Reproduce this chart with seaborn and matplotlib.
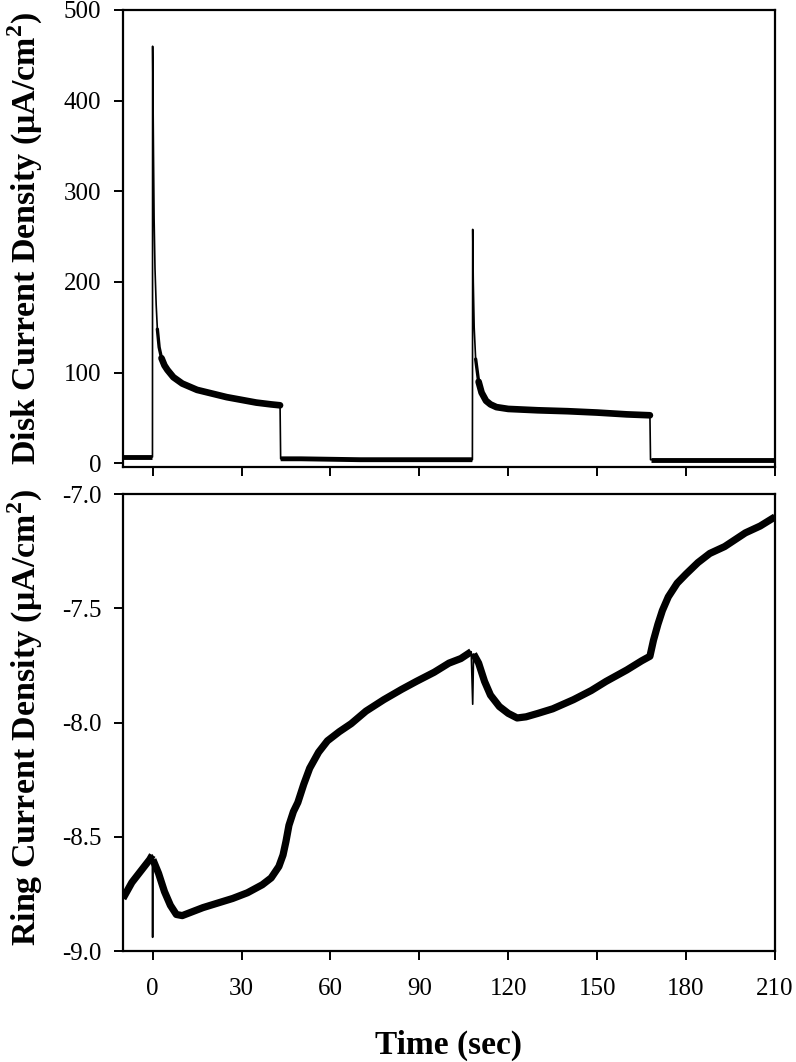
import numpy as np
import pandas as pd
import matplotlib
matplotlib.use("Agg")
import matplotlib.pyplot as plt
import seaborn as sns

# ---------------- data ----------------
disk_time = [-10, -5, -0.05, 0.0, 0.15, 0.3, 0.5, 0.8, 1.2, 1.6, 2.2, 3, 4, 5, 7, 10, 15, 20,
             25, 30, 35, 40, 43, 43.2, 50, 70, 90, 107.9, 108.0, 108.2, 108.5, 109, 110, 111,
             112.5, 114, 116, 120, 130, 140, 150, 160, 167.8, 168, 180, 195, 210]
disk_value = [7, 7, 7, 460, 400, 340, 270, 215, 175, 148, 128, 116, 108, 103, 95, 88, 81, 77,
              73, 70, 67, 65, 64, 5, 5, 4, 4, 4, 258, 200, 150, 115, 90, 78,
              69, 65, 62, 60, 58.5, 57.5, 56, 54, 53, 4, 4, 4, 4]

ring_time = [-10, -7, -4, -1, -0.1, 0.0, 0.1, 2, 4, 6, 8, 10, 13, 17, 22, 27, 32, 37, 40,
             42.6, 44, 45, 46, 47.5, 49, 51, 53, 56, 59, 63, 67, 72, 78, 84, 89, 95, 100,
             104, 107.5, 108.0, 108.3, 110, 112, 114, 117, 120, 123, 126, 130, 135, 142,
             148, 153, 160, 165, 167.8, 169, 170.5, 172, 174, 177, 180, 184, 188, 193, 200,
             205, 210]
ring_value = [-8.77, -8.70, -8.65, -8.60, -8.58, -8.94, -8.60, -8.66, -8.74, -8.80, -8.84,
              -8.845, -8.83, -8.81, -8.79, -8.77, -8.745, -8.71, -8.68,
              -8.63, -8.58, -8.52, -8.45, -8.39, -8.35, -8.27, -8.20, -8.13, -8.08, -8.04,
              -8.005, -7.95, -7.90, -7.855, -7.82, -7.78, -7.74,
              -7.72, -7.69, -7.92, -7.70, -7.74, -7.82, -7.88, -7.93, -7.96, -7.98, -7.975,
              -7.96, -7.94, -7.90,
              -7.86, -7.82, -7.77, -7.73, -7.71, -7.64, -7.57, -7.51, -7.45, -7.39, -7.35,
              -7.30, -7.26, -7.23, -7.17, -7.14, -7.10]

x_ticks = [0, 30, 60, 90, 120, 150, 180, 210]
disk_ticks = [0, 100, 200, 300, 400, 500]
ring_ticks = [-9.0, -8.5, -8.0, -7.5, -7.0]
ring_tick_labels = ["-9.0", "-8.5", "-8.0", "-7.5", "-7.0"]

# ---------------- style ----------------
sns.set_theme(style="ticks")
plt.rcParams["font.family"] = ["Liberation Serif", "DejaVu Serif"]
plt.rcParams["mathtext.fontset"] = "custom"
plt.rcParams["mathtext.rm"] = "Liberation Serif"
plt.rcParams["mathtext.bf"] = "Liberation Serif:bold"
for k in ["text.color", "axes.labelcolor", "xtick.color", "ytick.color", "axes.edgecolor"]:
    plt.rcParams[k] = "black"

disk = pd.DataFrame({"t": disk_time, "v": disk_value})
ring = pd.DataFrame({"t": ring_time, "v": ring_value})


def seg_label(t, ranges):
    for i, (a, b) in enumerate(ranges):
        if a <= t <= b:
            return i
    return -1


# noisy (thick) stretches, excluding the thin spikes/steps
disk_base_ranges = [(-10, -0.05), (43.2, 107.9), (168, 210)]
disk_mid_ranges = [(1.6, 4), (109, 111)]
disk_plateau_ranges = [(3, 43), (110, 167.8)]
ring_ranges = [(-10, -0.1), (0.1, 107.5), (108.3, 210)]

disk["base"] = [seg_label(t, disk_base_ranges) for t in disk_time]
disk["mid"] = [seg_label(t, disk_mid_ranges) for t in disk_time]
disk["plat"] = [seg_label(t, disk_plateau_ranges) for t in disk_time]
ring["seg"] = [seg_label(t, ring_ranges) for t in ring_time]

fig = plt.figure(figsize=(7.96, 10.62), dpi=100)
ax1 = fig.add_axes([0.1545, 0.5603, 0.8191, 0.4303])
ax2 = fig.add_axes([0.1545, 0.1045, 0.8191, 0.4303])

kw = dict(color="black", sort=False, estimator=None, solid_joinstyle="round")
lw_thin = 1.2
# top panel
sns.lineplot(data=disk, x="t", y="v", ax=ax1, lw=lw_thin, solid_capstyle="butt", **kw)
d = disk[disk["base"] >= 0]
sns.lineplot(data=d, x="t", y="v", units="base", ax=ax1, lw=3.5, solid_capstyle="butt", **kw)
d = disk[disk["mid"] >= 0]
sns.lineplot(data=d, x="t", y="v", units="mid", ax=ax1, lw=2.4, solid_capstyle="round", **kw)
d = disk[disk["plat"] >= 0]
sns.lineplot(data=d, x="t", y="v", units="plat", ax=ax1, lw=4.8, solid_capstyle="round", **kw)

# bottom panel
sns.lineplot(data=ring, x="t", y="v", ax=ax2, lw=lw_thin, solid_capstyle="butt", **kw)
r = ring[ring["seg"] >= 0]
sns.lineplot(data=r, x="t", y="v", units="seg", ax=ax2, lw=5.2, solid_capstyle="butt", **kw)

for ax in (ax1, ax2):
    ax.set_xlim(-10, 210)
    ax.set_xticks(x_ticks)
    for s in ax.spines.values():
        s.set_visible(True)
        s.set_linewidth(1.6)
        s.set_color("black")
    ax.tick_params(axis="both", direction="out", length=6.5, width=1.4,
                   colors="black", labelsize=18)
    ax.tick_params(axis="y", pad=9)
    ax.tick_params(axis="x", pad=13)
    ax.tick_params(top=False, right=False)

ax1.set_ylim(-4, 500)
ax1.set_yticks(disk_ticks)
ax1.set_xticklabels([])
ax1.set_xlabel("")
ax1.set_ylabel("Disk Current Density (μA/cm$^{\\mathbf{2}}$)", fontsize=24.5,
               fontweight="bold")
ax1.yaxis.set_label_coords(-0.12, 0.5)

ax2.set_ylim(-9.0, -7.0)
ax2.set_yticks(ring_ticks)
ax2.set_yticklabels(ring_tick_labels)
ax2.set_xticklabels([str(v) for v in x_ticks])
ax2.set_ylabel("Ring Current Density (μA/cm$^{\\mathbf{2}}$)", fontsize=24.5,
               fontweight="bold")
ax2.yaxis.set_label_coords(-0.12, 0.51)
ax2.set_xlabel("Time (sec)", fontsize=24, fontweight="bold")
ax2.xaxis.set_label_coords(0.5, -0.172)

fig.savefig("out.png", dpi=100)
